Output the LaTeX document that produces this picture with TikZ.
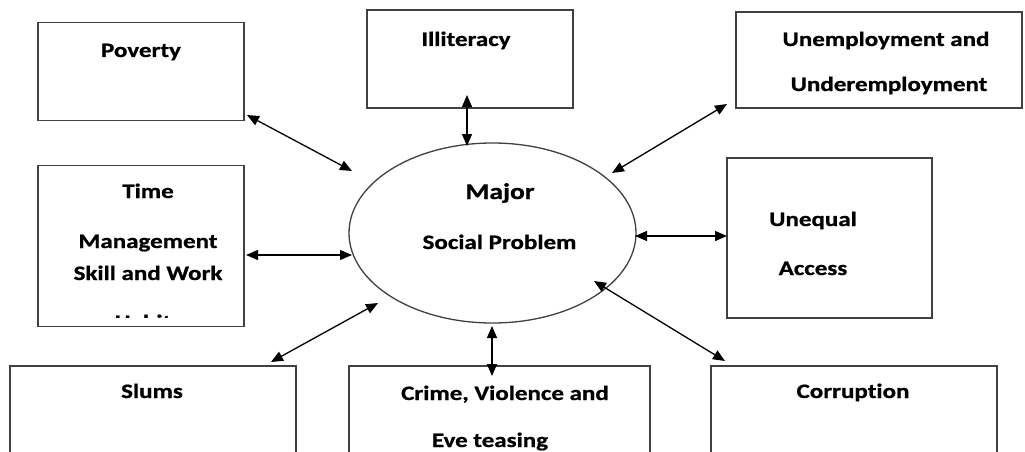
\documentclass[tikz,border=0pt]{standalone}
\usepackage{fontspec}
\usepackage{graphicx}
\setmainfont{Carlito}[Ligatures=NoCommon, BoldFeatures={FakeBold=0.8}]
\usetikzlibrary{arrows.meta,shapes.geometric}
\definecolor{boxgray}{HTML}{404040}
% text is set slightly condensed in height
\newcommand\sqz[1]{\scalebox{1}[0.82]{#1}}
\begin{document}
\begin{tikzpicture}[x=1pt,y=-1pt,
  box/.style={draw=boxgray, line width=1.4pt, inner sep=0pt},
  lbl/.style={font=\bfseries\fontsize{25}{30}\selectfont, anchor=base, inner sep=0pt},
  big/.style={font=\bfseries\fontsize{27.5}{32}\selectfont, anchor=base, inner sep=0pt},
  link/.style={line width=1.3pt, {Triangle[length=12pt,width=10pt]}-{Triangle[length=12pt,width=10pt]}}]
\useasboundingbox (0,0) rectangle (1025,452);
\clip (0,0) rectangle (1025,452);

% boxes
\node[box, minimum width=206pt, minimum height=98pt]  (pov)   at (141,71.5) {};
\node[box, minimum width=206pt, minimum height=98pt]  (ill)   at (470,59) {};
\node[box, minimum width=286pt, minimum height=96pt]  (unemp) at (879,60) {};
\node[box, minimum width=206pt, minimum height=161pt] (time)  at (141,246) {};
\node[box, minimum width=205pt, minimum height=160pt] (uneq)  at (829.5,238) {};
\node[box, minimum width=286pt, minimum height=150pt] (slum)  at (153,441) {};
\node[box, minimum width=301pt, minimum height=150pt] (crime) at (499.5,441) {};
\node[box, minimum width=286pt, minimum height=150pt] (corr)  at (854,441) {};
\node[draw=boxgray, line width=1.3pt, ellipse, minimum width=287pt, minimum height=180pt, inner sep=0pt] (core) at (492.5,233) {};

% labels
\node[lbl] (tpov) at (141,57) {\sqz{Poverty}};
\node[lbl] (till) at (466,46) {\sqz{Illiteracy}};
\node[lbl] (tun1) at (886,46) {\sqz{Unemployment and}};
\node[lbl] (tun2) at (889,91) {\sqz{Underemployment}};
\node[lbl] (tti1) at (148,198) {\sqz{Time}};
\node[lbl] (tti2) at (148,248) {\sqz{Management}};
\node[lbl] (tti3) at (148,280) {\sqz{Skill and Work}};
\begin{scope}
  \clip (38,166) rectangle (244,317);
  \node[lbl] (tti4) at (148,329) {\sqz{Habits}};
\end{scope}
\node[big] (tmaj) at (500,199) {\sqz{Major}};
\node[lbl] (tsoc) at (499.5,249) {\sqz{Social Problem}};
\node[lbl] (tue1) at (813,226) {\sqz{Unequal}};
\node[lbl] (tue2) at (813,275) {\sqz{Access}};
\node[lbl] (tslm) at (152,398) {\sqz{Slums}};
\node[lbl] (tcr1) at (505,400) {\sqz{Crime, Violence and}};
\node[lbl] (tcr2) at (490,447) {\sqz{Eve teasing}};
\node[lbl] (tcor) at (853,398) {\sqz{Corruption}};

% connector ends
\coordinate (pova) at (247,115);  \coordinate (povb) at (352,171);
\coordinate (illa) at (467,95);   \coordinate (illb) at (467,146);
\coordinate (una)  at (727,104);  \coordinate (unb)  at (612,173);
\coordinate (tima) at (246,255);  \coordinate (timb) at (352,255);
\coordinate (uqa)  at (727,236);  \coordinate (uqb)  at (635,236);
\coordinate (sla)  at (271,362);  \coordinate (slb)  at (378,303);
\coordinate (cra)  at (492,376);  \coordinate (crb)  at (492,326);
\coordinate (coa)  at (725,361);  \coordinate (cob)  at (594,281);

% two-way connectors
\draw[link] (pova) -- (povb);
\draw[link] (illa) -- (illb);
\draw[link] (una) -- (unb);
\draw[link] (tima) -- (timb);
\draw[link] (uqa) -- (uqb);
\draw[link] (sla) -- (slb);
\draw[link] (cra) -- (crb);
\draw[link] (coa) -- (cob);
\end{tikzpicture}
\end{document}
